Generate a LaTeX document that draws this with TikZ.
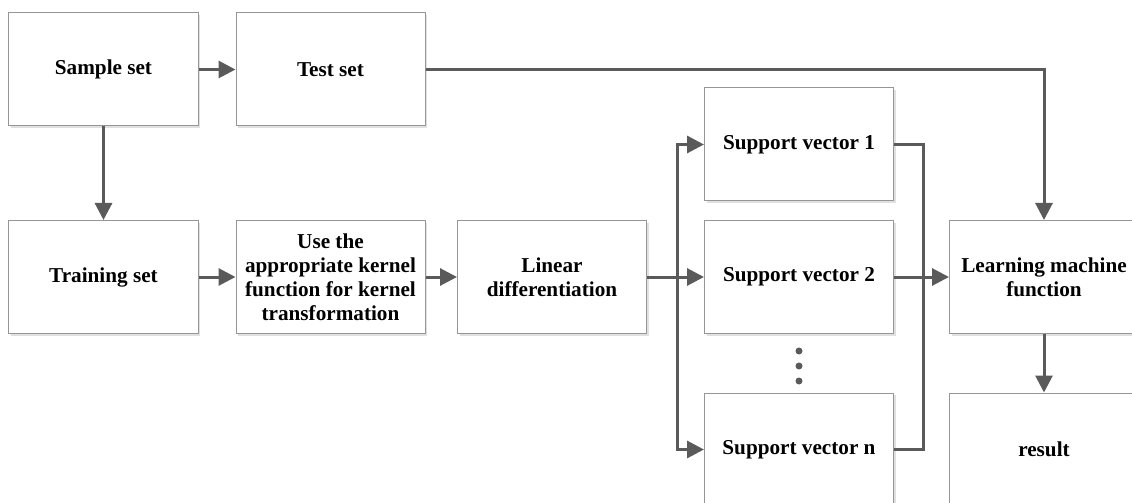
\documentclass[tikz,border=0pt]{standalone}
\usepackage{fontspec}
\setmainfont{Liberation Serif}
\usepackage{tikz}
\usetikzlibrary{positioning}
\usetikzlibrary{arrows.meta}
\usetikzlibrary{shadows}
\definecolor{linegray}{RGB}{90,90,90}
\definecolor{boxgray}{RGB}{150,150,150}

\begin{document}
\begin{tikzpicture}[
            > = {Triangle[length=8.5pt, width=8.5pt]}, % arrow head style
            line width = 1.5pt, % connector width
            node distance = 113.5pt % distance between box centres
        ]

        \tikzstyle{box}=[
            draw = boxgray,
            line width = 0.5pt,
            fill = white,
            drop shadow = {shadow xshift=1.2pt, shadow yshift=-1.2pt, fill=black!12, opacity=1},
            minimum width = 94.5pt,
            minimum height = 56.5pt,
            inner sep = 2pt,
            align = center,
            font = \fontsize{10.6}{12}\selectfont\bfseries
        ]
        \tikzstyle{link}=[draw = linegray, ->]

        \useasboundingbox (-51.75pt,34.75pt) rectangle (514.25pt,-216.75pt);

        % data sets
        \node[box] (S) {Sample set};
        \node[box] (T) [right of=S] {Test set};
        \node[box] (TR) [below of=S, node distance=103.75pt] {Training set};

        \draw[link] (S) -- (T);
        \draw[link] (S) -- (TR);

        % kernel step
        \node[box] (K) [right of=TR] {Use the\\appropriate kernel\\function for kernel\\transformation};
        \node[box] (L) [right of=K, node distance=110.75pt] {Linear\\differentiation};

        \draw[link] (TR) -- (K);
        \draw[link] (K) -- (L);

        % support vectors
        \node[box] (V2) [right of=L, node distance=123.5pt] {Support vector 2};
        \node[box] (V1) [above of=V2, node distance=66.25pt] {Support vector 1};
        \node[box] (VN) [below of=V2, node distance=86.25pt] {Support vector n};

        \coordinate[right=15pt of L.east] (split);
        \draw[link] (L) -- (V2);
        \draw[link] (split) |- (V1.west);
        \draw[link] (split) |- (VN.west);

        \foreach \d in {8.5, 16, 23.5}
            \fill[linegray] ([yshift=-\d pt]V2.south) circle (1.75pt);

        % output
        \node[box] (M) [right of=V2, node distance=122.5pt] {Learning machine\\function};
        \node[box] (R) [below of=M, node distance=86.25pt] {result};

        \coordinate[right=14.5pt of V2.east] (join);
        \draw[draw=linegray] (V1.east) -| (join) |- (VN.east);
        \draw[link] (V2) -- (M);
        \draw[link] (T.east) -| (M.north);
        \draw[link] (M) -- (R);

\end{tikzpicture}
\end{document}
